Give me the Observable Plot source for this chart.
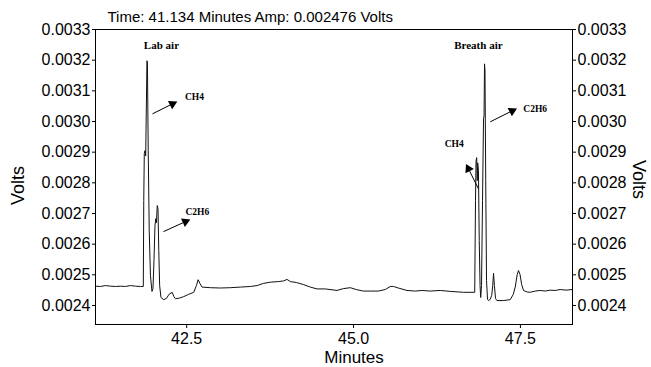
<!DOCTYPE html>
<html>
<head>
<meta charset="utf-8">
<script src="https://cdn.jsdelivr.net/npm/d3@7"></script>
<script src="https://cdn.jsdelivr.net/npm/@observablehq/plot@0.6"></script>
<style>
  html, body { margin: 0; padding: 0; background: #fff; }
  #chart { width: 651px; height: 367px; }
</style>
</head>
<body>
<div id="chart"></div>
<script>
// Chromatogram trace (minutes, volts)
const time = [
  41.134, 41.209, 41.284, 41.359, 41.433, 41.508, 41.583, 41.658, 41.733, 41.808, 41.850,
  41.857, 41.865, 41.875, 41.886, 41.897, 41.905, 41.912, 41.924, 41.939, 41.957, 41.980, 41.995,
  42.010, 42.025, 42.037, 42.047, 42.059, 42.070, 42.082, 42.095, 42.115, 42.156, 42.197, 42.234,
  42.282, 42.309, 42.332, 42.391, 42.456, 42.526, 42.606, 42.646, 42.671, 42.698, 42.731,
  42.855, 43.005, 43.155, 43.305, 43.454, 43.555, 43.649, 43.754, 43.874, 43.948, 44.004,
  44.053, 44.143, 44.252, 44.352, 44.453, 44.577, 44.752, 44.847, 44.951, 45.041, 45.146,
  45.251, 45.370, 45.475, 45.550, 45.599, 45.670, 45.800, 45.924, 46.029, 46.149, 46.299,
  46.448, 46.647, 46.815,
  46.827, 46.835, 46.845, 46.853, 46.860, 46.871, 46.883, 46.895, 46.905, 46.917, 46.932,
  46.947, 46.955, 46.962, 46.969, 46.980, 46.992, 47.007, 47.022, 47.047, 47.070, 47.085,
  47.097, 47.110, 47.127, 47.148, 47.242, 47.347, 47.392, 47.422, 47.452, 47.471, 47.494,
  47.519, 47.546, 47.601, 47.646, 47.721, 47.796, 47.871, 47.945, 48.020, 48.095, 48.184, 48.274
];
const volts = [
  0.002463, 0.002462, 0.002465, 0.002463, 0.002462, 0.002463, 0.002462, 0.002465, 0.002463, 0.002462, 0.002462,
  0.002742, 0.002895, 0.002905, 0.002888, 0.003067, 0.003198, 0.003191, 0.002905, 0.002644, 0.002498, 0.002446, 0.002455,
  0.002546, 0.002660, 0.002683, 0.002670, 0.002726, 0.002716, 0.002579, 0.002465, 0.002426, 0.002419, 0.002423, 0.002436,
  0.002443, 0.002429, 0.002422, 0.002424, 0.002429, 0.002436, 0.002443, 0.002465, 0.002484, 0.002472, 0.002460,
  0.002458, 0.002457, 0.002458, 0.002460, 0.002462, 0.002465, 0.002472, 0.002476, 0.002478, 0.002480, 0.002485,
  0.002478, 0.002475, 0.002468, 0.002460, 0.002454, 0.002454, 0.002449, 0.002455, 0.002458, 0.002452, 0.002447,
  0.002447, 0.002447, 0.002452, 0.002462, 0.002462, 0.002457, 0.002449, 0.002447, 0.002449, 0.002447, 0.002449,
  0.002446, 0.002443, 0.002443,
  0.002742, 0.002872, 0.002882, 0.002807, 0.002865, 0.002839, 0.002612, 0.002465, 0.002426, 0.002465, 0.002742,
  0.003009, 0.003018, 0.003188, 0.003165, 0.002807, 0.002481, 0.002420, 0.002416, 0.002420, 0.002433, 0.002465,
  0.002505, 0.002465, 0.002423, 0.002416, 0.002416, 0.002419, 0.002436, 0.002460, 0.002501, 0.002514, 0.002501,
  0.002468, 0.002449, 0.002444, 0.002443, 0.002447, 0.002449, 0.002447, 0.002450, 0.002449, 0.002452, 0.002450, 0.002452
];

const xTicks = [42.5, 45.0, 47.5];
const yTicks = [0.0024, 0.0025, 0.0026, 0.0027, 0.0028, 0.0029, 0.0030, 0.0031, 0.0032, 0.0033];
const xDomain = [41.134, 48.28];
const yDomain = [0.002338, 0.0033];

const titleText = "Time: 41.134 Minutes Amp: 0.002476 Volts";
const xLabel = "Minutes";
const yLabel = "Volts";

// Section headings
const headText = ["Lab air", "Breath air"];
const headTime = [42.122, 46.870];
const headVolts = [0.0032495, 0.0032495];

// Peak labels
const peakText = ["CH4", "C2H6", "CH4", "C2H6"];
const peakTime = [42.616, 42.660, 46.508, 47.721];
const peakVolts = [0.003080, 0.0027059, 0.0029273, 0.0030412];

// Arrows (start -> head)
const arrowT1 = [41.987, 42.152, 46.871, 47.047];
const arrowV1 = [0.003025, 0.0026408, 0.0027808, 0.0029989];
const arrowT2 = [42.287, 42.481, 46.721, 47.376];
const arrowV2 = [0.0030575, 0.0026734, 0.0028459, 0.0030347];
const arrowAngle = [63, 66, -27, 63];

const trace = time.map((t, i) => ({t, v: volts[i]}));
const heads = headText.map((s, i) => ({s, t: headTime[i], v: headVolts[i]}));
const peaks = peakText.map((s, i) => ({s, t: peakTime[i], v: peakVolts[i]}));
const arrows = arrowT1.map((t1, i) => ({t1, v1: arrowV1[i], t2: arrowT2[i], v2: arrowV2[i], a: arrowAngle[i]}));

const sans = "'Liberation Sans', Arial, Helvetica, sans-serif";
const serif = "'Liberation Serif', 'Times New Roman', serif";

const plot = Plot.plot({
  width: 651,
  height: 367,
  marginLeft: 95,
  marginRight: 79,
  marginTop: 29,
  marginBottom: 43,
  style: {fontFamily: sans, fontSize: "16px", color: "#000", background: "#fff", overflow: "visible"},
  x: {domain: xDomain},
  y: {domain: yDomain},
  marks: [
    Plot.frame({stroke: "#000", strokeWidth: 1}),
    Plot.axisX({ticks: xTicks, tickFormat: d3.format(".1f"), tickSize: 4, tickPadding: 4, label: null, fontSize: 16}),
    Plot.axisY({anchor: "left", ticks: yTicks, tickFormat: d3.format(".4f"), tickSize: 3, tickPadding: 2, label: null, fontSize: 16}),
    Plot.axisY({anchor: "right", ticks: yTicks, tickFormat: d3.format(".4f"), tickSize: 3, tickPadding: 2, label: null, fontSize: 16}),
    Plot.line(trace, {x: "t", y: "v", stroke: "#111", strokeWidth: 1, curve: "linear"}),
    Plot.link(arrows, {x1: "t1", y1: "v1", x2: "t2", y2: "v2", stroke: "#000", strokeWidth: 1}),
    Plot.dot(arrows, {x: "t2", y: "v2", symbol: "triangle2", r: 4.5, fill: "#000", stroke: "none", rotate: "a"}),
    Plot.text(heads, {x: "t", y: "v", text: "s", fontFamily: serif, fontWeight: "bold", fontSize: 11, fill: "#000"}),
    Plot.text(peaks, {x: "t", y: "v", text: "s", fontFamily: serif, fontWeight: "bold", fontSize: 9.5, fill: "#000"}),
    Plot.text([titleText], {frameAnchor: "top-left", text: d => d, textAnchor: "start", dx: 12, dy: -18, fontSize: 15, fill: "#000"}),
    Plot.text([xLabel], {frameAnchor: "bottom", text: d => d, dx: 20, dy: 38, fontSize: 17, fill: "#000"}),
    Plot.text([yLabel], {frameAnchor: "left", text: d => d, dx: -77, dy: 28, rotate: -90, fontSize: 18, fill: "#000"}),
    Plot.text([yLabel], {frameAnchor: "right", text: d => d, dx: 66, dy: 22, rotate: 90, fontSize: 18, fill: "#000"})
  ]
});
document.getElementById("chart").appendChild(plot);
</script>
</body>
</html>
